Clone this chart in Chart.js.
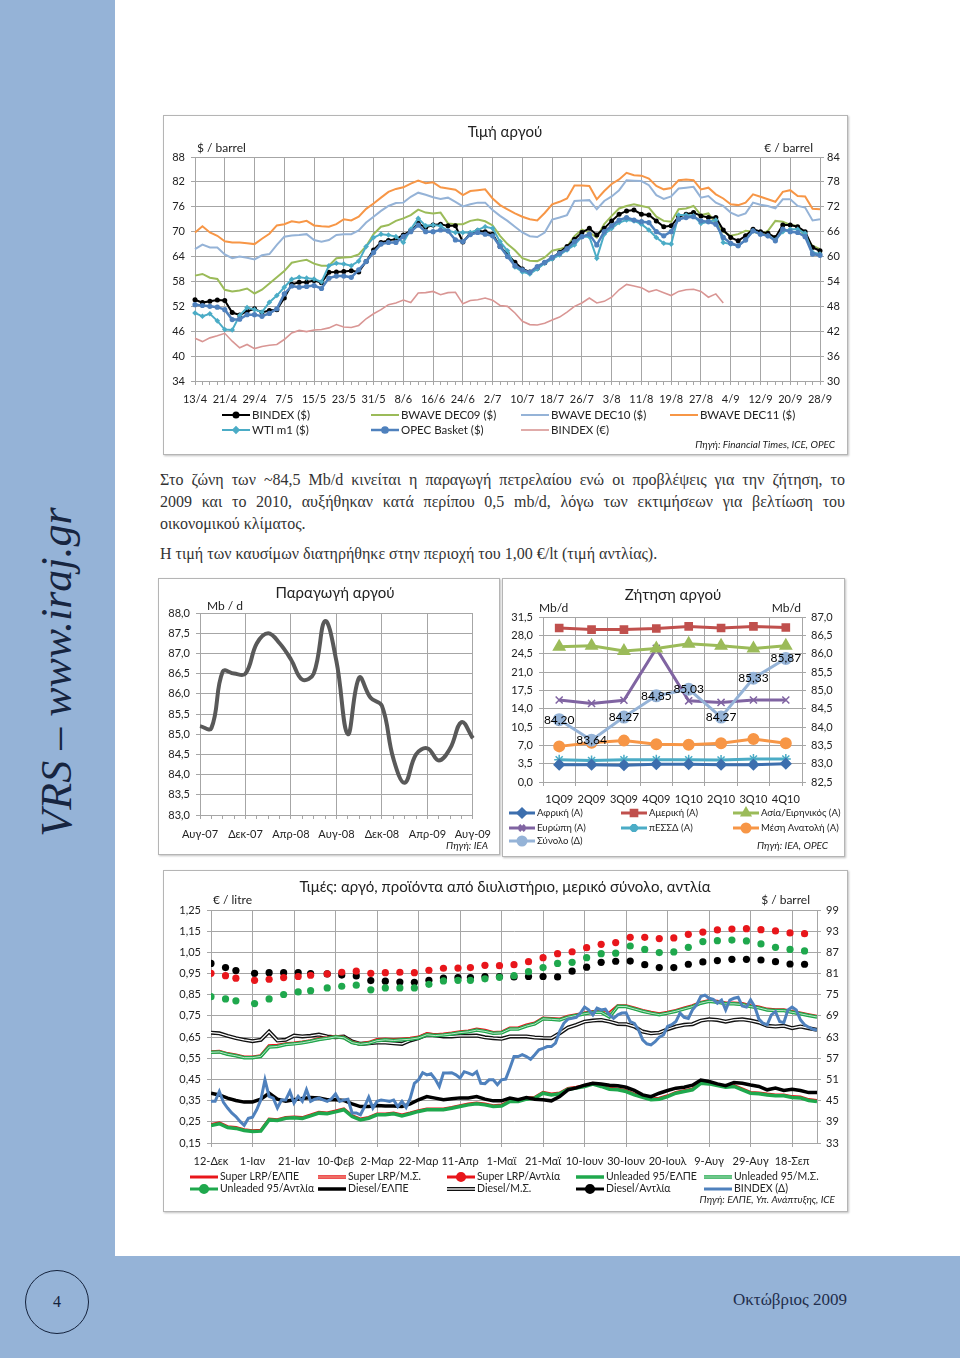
<!DOCTYPE html>
<html lang="el">
<head>
<meta charset="UTF-8">
<title>Τιμή αργού - Οκτώβριος 2009</title>
<script src="https://cdn.jsdelivr.net/npm/chart.js"></script>
<style>
  body { margin: 0; padding: 0; background: #fff; }
  .page { position: relative; width: 960px; height: 1358px; overflow: hidden; background: #fff; }
  .band-left { position: absolute; left: 0; top: 0; width: 115px; height: 1358px; background: #95b3d7; }
  .band-bottom { position: absolute; left: 0; top: 1256px; width: 960px; height: 102px; background: #95b3d7; }
  .vtext {
    position: absolute; left: -143px; top: 647px; width: 400px; height: 50px;
    font: italic 44px "Liberation Serif", serif; line-height: 50px; color: #172540;
    text-align: center; transform: rotate(-90deg); white-space: nowrap;
  }
  .pageno {
    position: absolute; left: 25px; top: 1270px; width: 62px; height: 62px; border: 1.5px solid #14223c;
    border-radius: 50%; text-align: center; font: 16px "Liberation Serif", serif; line-height: 62px; color: #14223c;
  }
  .month { position: absolute; left: 733px; top: 1290px; font: 17px "Liberation Serif", serif; line-height: 20px; color: #1f2d4b; }
  .box {
    position: absolute; box-sizing: border-box; border: 1px solid #b5b5b5; background: #fff;
    box-shadow: 1px 1px 2px rgba(0, 0, 0, 0.25);
  }
  .box canvas { position: absolute; left: -1px; top: -1px; }
  .txt {
    position: absolute; left: 160px; width: 685px; height: 22px; line-height: 22px; white-space: nowrap;
    font-family: "Liberation Serif", serif; font-size: 16px; color: #333;
  }
  .just { text-align: justify; text-align-last: justify; white-space: normal; }
</style>
</head>
<body>
<div class="page">
  <div class="band-left"></div>
  <div class="band-bottom"></div>
  <div class="vtext">VRS – www.iraj.gr</div>
  <div class="pageno">4</div>
  <div class="month">Οκτώβριος 2009</div>

  <div class="box" style="left:163px; top:115px; width:685px; height:340px;">
    <canvas id="crude" width="685" height="340"></canvas>
  </div>

  <div class="txt just" style="top:469px;">Στο ζώνη των ~84,5 Mb/d κινείται η παραγωγή πετρελαίου ενώ οι προβλέψεις για την ζήτηση, το</div>
  <div class="txt just" style="top:491px;">2009 και το 2010, αυξήθηκαν κατά περίπου 0,5 mb/d, λόγω των εκτιμήσεων για βελτίωση του</div>
  <div class="txt" style="top:513px;">οικονομικού κλίματος.</div>
  <div class="txt" style="top:543px;">Η τιμή των καυσίμων διατηρήθηκε στην περιοχή του 1,00 €/lt (τιμή αντλίας).</div>

  <div class="box" style="left:158px; top:578px; width:342px; height:277px;">
    <canvas id="production" width="342" height="277"></canvas>
  </div>
  <div class="box" style="left:502px; top:578px; width:343px; height:279px;">
    <canvas id="demand" width="343" height="279"></canvas>
  </div>

  <div class="box" style="left:163px; top:870px; width:685px; height:342px;">
    <canvas id="fuel" width="685" height="342"></canvas>
  </div>
</div>

<script>
// ---------- Τιμή αργού (κάθε 2 ημέρες, 13/4 - 28/9) ----------
const crudeDates = ['13/4','15/4','17/4','19/4','21/4','23/4','25/4','27/4','29/4','1/5','3/5','5/5','7/5','9/5','11/5','13/5','15/5','17/5','19/5','21/5','23/5','25/5','27/5','29/5','31/5','2/6','4/6','6/6','8/6','10/6','12/6','14/6','16/6','18/6','20/6','22/6','24/6','26/6','28/6','30/6','2/7','4/7','6/7','8/7','10/7','12/7','14/7','16/7','18/7','20/7','22/7','24/7','26/7','28/7','30/7','1/8','3/8','5/8','7/8','9/8','11/8','13/8','15/8','17/8','19/8','21/8','23/8','25/8','27/8','29/8','31/8','2/9','4/9','6/9','8/9','10/9','12/9','14/9','16/9','18/9','20/9','22/9','24/9','26/9','28/9'];
const bindexUsd = [53.6,52.9,53.2,53.5,53.4,50.5,49.9,50.8,51.4,50.5,51.0,51.2,54.0,57.3,57.8,57.8,58.2,57.7,60.2,60.3,60.4,60.6,60.3,62.8,65.6,67.4,67.9,68.2,69.2,70.2,72.0,71.0,71.6,71.8,71.4,71.4,67.5,69.6,70.2,70.0,69.4,66.4,64.6,62.6,61.0,60.3,61.2,62.5,63.6,65.0,66.4,68.2,69.8,70.8,69.2,70.8,72.6,74.2,75.0,75.2,74.2,74.0,72.6,71.2,71.4,73.6,74.2,74.6,73.8,73.4,73.4,70.4,68.6,67.8,69.0,70.6,70.0,69.6,68.6,71.6,71.6,71.2,70.0,66.2,65.4];
const dec09 = [59.4,59.8,58.9,58.6,56.0,55.6,55.8,56.3,55.1,56.0,57.5,59.0,60.5,62.5,62.9,63.2,62.3,61.8,61.8,63.6,63.8,63.9,64.5,66.5,69.4,71.2,71.6,72.6,73.2,74.0,75.3,74.6,74.4,74.6,72.0,71.8,71.8,72.6,72.9,72.5,71.5,69.0,67.0,65.5,63.6,63.0,62.9,63.8,65.4,65.8,66.4,68.9,70.5,69.8,68.6,71.8,73.8,75.6,76.2,76.6,76.2,75.8,73.6,72.6,72.4,75.4,75.6,76.2,74.0,74.4,72.0,70.0,69.0,69.4,70.2,70.0,69.4,70.2,72.6,72.4,71.6,71.4,68.8,66.6,65.8];
const dec10 = [65.8,66.9,66.2,66.2,64.5,63.6,64.0,63.7,63.3,64.3,64.6,66.8,68.8,69.1,69.2,69.4,68.0,67.6,68.0,69.2,69.4,69.4,70.3,72.2,73.6,75.0,76.2,76.9,77.0,78.4,79.4,78.9,78.3,77.9,78.2,77.2,76.1,76.6,77.0,77.0,75.2,73.8,72.6,71.2,69.8,68.9,68.7,69.8,72.9,73.4,74.0,77.4,77.5,77.6,75.4,77.4,78.5,80.0,82.4,82.3,82.2,81.2,78.8,77.9,78.5,80.4,80.6,80.8,78.2,78.6,77.0,76.2,74.6,73.8,74.4,77.0,76.5,76.2,75.6,77.8,77.8,76.2,75.8,72.7,73.0];
const dec11 = [69.8,71.3,69.8,69.0,67.7,67.4,67.4,67.2,67.0,68.3,69.5,71.5,71.8,72.5,72.2,72.6,71.5,71.3,71.2,71.8,73.0,72.7,73.6,75.5,76.8,78.2,79.6,80.3,80.7,81.6,82.3,81.7,81.9,80.7,80.4,80.1,78.8,79.8,80.0,80.2,78.0,76.4,75.4,74.4,73.6,73.0,72.7,74.5,76.6,77.2,78.0,81.1,81.1,81.0,77.8,79.8,81.5,82.6,84.2,83.6,83.5,82.8,81.0,80.2,80.5,82.4,82.6,82.4,80.2,80.6,79.0,78.0,76.6,76.4,77.0,79.0,78.4,77.8,77.2,79.6,80.0,78.6,78.5,75.5,75.4];
const wti = [50.4,49.6,50.2,48.5,46.4,46.3,49.8,51.7,51.2,50.6,53.0,54.6,56.6,58.5,59.0,58.8,58.6,57.9,61.8,62.4,62.2,61.8,62.9,66.4,68.6,69.4,69.2,68.8,67.4,70.6,73.2,71.4,71.6,71.4,70.2,69.8,69.8,69.8,70.4,71.2,70.8,67.6,65.4,61.5,60.3,59.8,61.0,62.4,63.4,64.4,65.6,66.8,68.8,68.8,63.6,69.4,70.8,72.2,72.8,72.6,71.8,70.4,68.6,67.2,67.0,74.0,74.0,73.8,72.0,72.4,72.8,67.4,67.0,66.6,68.0,70.2,69.4,69.0,68.0,70.0,70.6,70.6,69.6,65.0,64.6];
const opec = [52.4,52.2,52.0,51.8,51.2,48.8,48.9,50.0,50.0,49.6,50.3,51.4,55.0,56.9,56.6,56.8,57.0,56.3,58.8,59.3,59.3,59.0,60.8,62.8,65.0,67.0,67.4,67.4,68.8,70.0,71.6,70.0,70.0,70.4,70.2,68.0,67.6,69.3,69.8,69.4,69.0,66.4,64.0,61.8,60.8,60.2,61.6,62.6,63.8,64.8,65.9,67.6,68.8,69.4,66.8,70.0,71.4,72.8,73.4,72.8,72.4,72.2,70.0,69.0,70.0,73.0,73.4,73.6,72.6,72.4,71.8,68.6,67.2,66.6,68.0,70.2,69.4,69.0,67.8,70.6,70.0,69.8,68.8,64.6,64.3];
const bindexEur = [40.3,39.5,40.4,40.9,41.5,39.6,38.0,38.8,37.8,38.3,38.6,38.8,40.0,41.6,42.2,41.9,42.3,42.4,42.8,43.6,43.0,42.9,43.4,45.0,46.2,47.2,48.4,48.8,49.5,48.9,51.2,51.3,51.6,50.8,51.3,51.4,48.6,49.4,49.6,50.0,49.5,48.2,48.0,46.4,44.4,43.6,43.5,43.9,44.7,45.4,46.6,48.0,48.8,50.0,48.8,49.2,50.2,52.0,53.3,52.9,52.5,51.5,52.0,51.3,50.6,51.6,52.0,52.1,51.6,50.2,51.0,48.8,null,null,null,null,null,null,null,null,null,null,null,null,null];

// ---------- Παραγωγή αργού (μηνιαία) ----------
const prodMonths = ['Αυγ-07','Σεπ-07','Οκτ-07','Νοε-07','Δεκ-07','Ιαν-08','Φεβ-08','Μαρ-08','Απρ-08','Μαϊ-08','Ιουν-08','Ιουλ-08','Αυγ-08','Σεπ-08','Οκτ-08','Νοε-08','Δεκ-08','Ιαν-09','Φεβ-09','Μαρ-09','Απρ-09','Μαϊ-09','Ιουν-09','Ιουλ-09','Αυγ-09'];
const production = [85.2,85.15,86.55,86.5,86.5,87.25,87.5,87.25,86.85,86.35,86.5,87.8,86.8,85.0,86.4,85.9,85.7,84.4,83.8,84.5,84.65,84.35,84.65,85.3,84.9];

// ---------- Ζήτηση αργού (τρίμηνα) ----------
const quarters = ['1Q09','2Q09','3Q09','4Q09','1Q10','2Q10','3Q10','4Q10'];
const africa = [3.3,3.3,3.2,3.4,3.4,3.3,3.3,3.5];
const america = [29.4,29.1,29.1,29.3,29.7,29.4,29.7,29.5];
const asia = [25.8,26.0,25.0,25.5,26.4,26.0,25.5,26.0];
const europe = [15.65,15.0,15.6,25.5,15.5,15.2,15.65,15.65];
const fsu = [4.25,4.1,4.25,4.25,4.25,4.2,4.4,4.4];
const middleEast = [6.8,7.5,7.9,7.2,7.1,7.4,8.2,7.4];
const totalDemand = [84.20,83.64,84.27,84.85,85.03,84.27,85.33,85.87];

// ---------- Τιμές καυσίμων (ημέρες από 12-Δεκ-2008) ----------
const fuelTicks = ['12-Δεκ','1-Ιαν','21-Ιαν','10-Φεβ','2-Μαρ','22-Μαρ','11-Απρ','1-Μαϊ','21-Μαϊ','10-Ιουν','30-Ιουν','20-Ιουλ','9-Αυγ','29-Αυγ','18-Σεπ'];
const lineDays = [0,4,8,12,16,20,24,28,32,36,40,44,48,52,56,60,64,68,72,76,80,84,88,92,96,100,104,108,112,116,120,124,128,132,136,140,144,148,152,156,160,164,168,172,176,180,184,188,192,196,200,204,208,212,216,220,224,228,232,236,240,244,248,252,256,260,264,268,272,276,280,284,288,292];
const superElpe = [0.237,0.245,0.227,0.223,0.213,0.208,0.210,0.263,0.260,0.271,0.273,0.270,0.282,0.295,0.292,0.301,0.311,0.279,0.263,0.271,0.287,0.287,0.292,0.282,0.292,0.303,0.311,0.311,0.311,0.318,0.326,0.334,0.339,0.334,0.326,0.329,0.350,0.350,0.361,0.366,0.389,0.381,0.386,0.408,0.413,0.421,0.432,0.421,0.408,0.405,0.397,0.381,0.370,0.358,0.361,0.373,0.389,0.397,0.405,0.436,0.433,0.425,0.417,0.421,0.405,0.389,0.386,0.381,0.377,0.377,0.369,0.367,0.355,0.350];
const superMs = [0.579,0.582,0.571,0.564,0.555,0.555,0.561,0.608,0.610,0.618,0.621,0.626,0.632,0.642,0.646,0.653,0.648,0.626,0.618,0.624,0.637,0.640,0.637,0.640,0.643,0.649,0.665,0.660,0.663,0.668,0.674,0.678,0.687,0.681,0.671,0.673,0.692,0.692,0.706,0.715,0.739,0.737,0.734,0.747,0.755,0.763,0.770,0.770,0.763,0.797,0.797,0.786,0.775,0.766,0.759,0.766,0.775,0.786,0.797,0.813,0.822,0.818,0.810,0.810,0.807,0.797,0.791,0.781,0.778,0.778,0.770,0.763,0.755,0.747];
const unlElpe = [0.233,0.241,0.223,0.219,0.209,0.204,0.206,0.259,0.256,0.267,0.269,0.266,0.278,0.291,0.288,0.297,0.307,0.275,0.259,0.267,0.283,0.283,0.288,0.278,0.288,0.299,0.307,0.307,0.307,0.314,0.322,0.330,0.335,0.330,0.322,0.325,0.346,0.346,0.357,0.362,0.385,0.377,0.382,0.404,0.409,0.417,0.428,0.417,0.404,0.401,0.393,0.377,0.366,0.354,0.357,0.369,0.385,0.393,0.401,0.432,0.429,0.421,0.413,0.417,0.401,0.385,0.382,0.377,0.373,0.373,0.365,0.363,0.351,0.346];
const unlMs = [0.578,0.580,0.569,0.562,0.553,0.553,0.559,0.603,0.606,0.615,0.618,0.623,0.630,0.639,0.644,0.651,0.647,0.624,0.616,0.621,0.633,0.637,0.634,0.637,0.640,0.646,0.661,0.657,0.660,0.665,0.671,0.675,0.683,0.677,0.668,0.670,0.688,0.688,0.702,0.712,0.736,0.734,0.731,0.744,0.752,0.760,0.767,0.767,0.745,0.795,0.794,0.783,0.772,0.763,0.756,0.763,0.772,0.783,0.794,0.810,0.819,0.815,0.807,0.807,0.804,0.794,0.788,0.778,0.775,0.775,0.767,0.760,0.752,0.745];
const dieselElpe = [0.385,0.377,0.362,0.351,0.343,0.344,0.357,0.385,0.357,0.347,0.354,0.360,0.365,0.362,0.354,0.354,0.351,0.335,0.322,0.322,0.327,0.325,0.325,0.322,0.335,0.354,0.369,0.362,0.354,0.359,0.363,0.363,0.369,0.357,0.349,0.349,0.362,0.354,0.365,0.357,0.354,0.349,0.369,0.401,0.410,0.423,0.432,0.429,0.423,0.420,0.413,0.398,0.377,0.369,0.385,0.398,0.409,0.413,0.423,0.447,0.440,0.429,0.421,0.436,0.432,0.424,0.417,0.401,0.409,0.398,0.404,0.398,0.388,0.388];
const dieselMs = [0.671,0.668,0.656,0.645,0.637,0.631,0.637,0.676,0.634,0.637,0.657,0.653,0.656,0.662,0.653,0.649,0.653,0.629,0.618,0.621,0.624,0.624,0.621,0.618,0.634,0.645,0.662,0.659,0.653,0.653,0.656,0.656,0.657,0.649,0.645,0.642,0.653,0.653,0.653,0.648,0.646,0.645,0.668,0.695,0.708,0.723,0.728,0.731,0.723,0.712,0.711,0.700,0.676,0.668,0.671,0.687,0.700,0.708,0.711,0.728,0.734,0.731,0.723,0.731,0.734,0.728,0.719,0.703,0.700,0.703,0.692,0.700,0.692,0.684];
const pumpDays = [0,7,12,21,28,35,42,48,56,63,70,77,84,91,98,105,112,119,125,132,139,146,153,160,167,174,181,188,195,202,209,216,223,230,237,244,251,258,265,272,279,286];
const superPump = [0.951,0.940,0.928,0.918,0.923,0.931,0.936,0.942,0.948,0.956,0.961,0.951,0.954,0.956,0.954,0.965,0.975,0.976,0.978,0.989,0.987,0.992,1.006,1.025,1.044,1.053,1.072,1.088,1.096,1.121,1.121,1.115,1.118,1.135,1.146,1.156,1.160,1.162,1.157,1.151,1.142,1.138];
const unlPump = [0.841,0.830,0.821,0.808,0.830,0.851,0.863,0.869,0.882,0.890,0.895,0.873,0.882,0.882,0.882,0.899,0.915,0.918,0.918,0.925,0.932,0.940,0.959,0.978,0.998,1.003,1.025,1.044,1.046,1.080,1.064,1.049,1.052,1.074,1.101,1.105,1.108,1.104,1.090,1.074,1.064,1.057];
const dieselPump = [0.998,0.978,0.964,0.951,0.954,0.954,0.954,0.950,0.948,0.943,0.939,0.917,0.914,0.910,0.909,0.918,0.929,0.931,0.931,0.936,0.936,0.934,0.936,0.936,0.934,0.961,0.980,1.003,1.008,1.009,0.992,0.978,0.978,0.994,1.005,1.011,1.017,1.017,1.014,1.006,0.995,0.994];
const bindexDays = [0,2,4,6,8,10,12,14,16,18,20,22,24,26,28,30,32,34,36,38,40,42,44,46,48,50,52,54,56,58,60,62,64,66,68,70,72,74,76,78,80,82,84,86,88,90,92,94,96,98,100,102,104,106,108,110,112,114,116,118,120,122,124,126,128,130,132,134,136,138,140,142,144,146,148,150,152,154,156,158,160,162,164,166,168,170,172,174,176,178,180,182,184,186,188,190,192,194,196,198,200,202,204,206,208,210,212,214,216,218,220,222,224,226,228,230,232,234,236,238,240,242,244,246,248,250,252,254,256,258,260,262,264,266,268,270,272,274,276,278,280,282,284,286,288,290,292];
const bindexFuel = [44.8,44.8,47.6,44.5,42.9,41.5,40.5,39.1,38.0,40.0,40.3,42.4,45.2,50.9,46.2,45.7,42.9,45.2,45.2,47.6,44.3,46.2,44.8,48.1,44.8,45.4,45.7,45.2,44.8,45.5,46.9,44.8,45.2,45.4,41.5,41.5,41.0,43.3,46.0,42.9,44.8,45.2,45.0,44.8,45.2,43.3,44.8,43.1,45.7,49.9,50.9,52.9,52.3,52.6,51.1,49.0,52.8,52.8,52.9,52.3,51.4,53.2,52.8,52.3,53.2,49.9,49.8,50.9,50.9,49.5,50.9,51.1,54.2,57.5,57.5,58.0,57.5,56.7,58.0,59.4,59.8,60.3,60.3,61.3,64.6,66.9,68.1,68.3,68.6,69.8,71.5,70.7,69.3,71.2,70.7,70.9,69.3,68.3,69.3,69.8,69.9,67.4,66.9,65.0,62.2,61.1,60.8,61.7,63.0,63.6,66.0,66.5,67.4,69.8,68.6,68.3,70.7,72.1,74.5,74.9,74.0,73.7,72.6,73.5,70.7,73.5,74.0,74.3,71.8,71.5,73.5,71.6,68.1,66.9,66.5,69.3,70.2,67.4,67.1,70.7,71.5,70.7,67.9,66.5,65.8,65.2,65.0];

// ---------- κοινά ----------
Chart.defaults.font.family = 'Lato, "Open Sans", sans-serif';
Chart.defaults.font.size = 11;
Chart.defaults.color = '#222';
Chart.defaults.animation = false;
Chart.defaults.plugins.legend.display = false;
Chart.defaults.plugins.tooltip.enabled = false;

const GRID = '#a6a6a6';
const NONE = 'rgba(0,0,0,0)';
const fixW = w => s => { s.width = w; };
const fixH = h => s => { s.height = h; };
const comma = d => v => Number(v).toFixed(d).replace('.', ',');
const pairs = (xs, ys) => xs.map((x, i) => ({ x: x, y: ys[i] }));

// τίτλοι, μονάδες, πηγή, υπόμνημα σε στήλες, διπλές γραμμές, ετικέτες τιμών
const decor = {
  id: 'decor',
  afterDatasetDraw(chart, args) {
    const ds = chart.data.datasets[args.index];
    if (!ds.innerColor) return;
    const ctx = chart.ctx;
    const pts = args.meta.data;
    ctx.save();
    ctx.beginPath();
    pts.forEach((p, i) => { if (i) ctx.lineTo(p.x, p.y); else ctx.moveTo(p.x, p.y); });
    ctx.strokeStyle = ds.innerColor;
    ctx.lineWidth = ds.innerWidth || 1.2;
    ctx.lineJoin = 'round';
    ctx.stroke();
    ctx.restore();
  },
  afterDatasetsDraw(chart) {
    const ctx = chart.ctx;
    chart.data.datasets.forEach((ds, i) => {
      if (!ds.valueLabels) return;
      const meta = chart.getDatasetMeta(i);
      ctx.save();
      ctx.font = '12px Lato';
      ctx.fillStyle = '#000';
      ctx.textAlign = 'center';
      ctx.textBaseline = 'middle';
      meta.data.forEach((p, j) => ctx.fillText(comma(2)(ds.data[j]), p.x, p.y));
      ctx.restore();
    });
  },
  afterDraw(chart, args, opts) {
    const ctx = chart.ctx;
    ctx.save();
    ctx.textBaseline = 'middle';
    (opts.texts || []).forEach(t => {
      ctx.font = t.font || '12px Lato';
      ctx.fillStyle = t.color || '#222';
      ctx.textAlign = t.align || 'left';
      ctx.fillText(t.text, t.x, t.y);
    });
    const lg = opts.legend;
    if (lg) {
      chart.data.datasets.forEach((ds, k) => {
        const x = lg.xs[k % lg.xs.length];
        const y = lg.ys[Math.floor(k / lg.xs.length)];
        const w = lg.width || 28;
        ctx.beginPath();
        ctx.moveTo(x, y);
        ctx.lineTo(x + w, y);
        ctx.strokeStyle = ds.borderColor;
        ctx.lineWidth = Math.min(ds.borderWidth || 2, 4);
        ctx.stroke();
        if (ds.innerColor) {
          ctx.beginPath();
          ctx.moveTo(x, y);
          ctx.lineTo(x + w, y);
          ctx.strokeStyle = ds.innerColor;
          ctx.lineWidth = ds.innerWidth || 1.2;
          ctx.stroke();
        }
        if (ds.pointRadius) {
          ctx.fillStyle = ds.pointBackgroundColor || ds.borderColor;
          ctx.strokeStyle = ds.pointBorderColor || ds.borderColor;
          Chart.helpers.drawPoint(ctx, { pointStyle: ds.pointStyle || 'circle', rotation: 0, radius: Math.min(ds.pointRadius, 4), borderWidth: 1.5 }, x + w / 2, y);
        }
        ctx.font = lg.font;
        ctx.fillStyle = '#222';
        ctx.textAlign = 'left';
        ctx.fillText(ds.label, x + w + 2, y);
      });
    }
    ctx.restore();
  }
};

// ---------- 1. Τιμή αργού ----------
new Chart(document.getElementById('crude'), {
  type: 'line',
  data: {
    labels: crudeDates,
    datasets: [
      { label: 'BINDEX ($)', data: bindexUsd, borderColor: '#000', backgroundColor: '#000', borderWidth: 2, pointRadius: 2.5, pointStyle: 'circle', pointBorderWidth: 0, order: 3 },
      { label: 'BWAVE DEC09 ($)', data: dec09, borderColor: '#9bbb59', borderWidth: 2, pointRadius: 0, order: 4 },
      { label: 'BWAVE DEC10 ($)', data: dec10, borderColor: '#95b3d7', borderWidth: 2, pointRadius: 0, order: 5 },
      { label: 'BWAVE DEC11 ($)', data: dec11, borderColor: '#f79646', borderWidth: 2, pointRadius: 0, order: 6 },
      { label: 'WTI m1 ($)', data: wti, borderColor: '#4bacc6', backgroundColor: '#4bacc6', borderWidth: 2, pointRadius: 2.8, pointStyle: 'rectRot', pointBorderWidth: 0, order: 2 },
      { label: 'OPEC Basket ($)', data: opec, borderColor: '#4f81bd', backgroundColor: '#4f81bd', borderWidth: 2.5, pointRadius: 2.6, pointStyle: 'circle', pointBorderWidth: 0, order: 1 },
      { label: 'BINDEX (€)', data: bindexEur, borderColor: '#d99694', borderWidth: 1.6, pointRadius: 0, yAxisID: 'y2', order: 7 }
    ]
  },
  options: {
    responsive: false,
    layout: { padding: { top: 42, left: 0, right: 0, bottom: 0 } },
    scales: {
      x: {
        grid: { color: c => (c.index % 4 === 0 ? GRID : NONE), tickColor: GRID, tickLength: 4 },
        border: { color: GRID },
        ticks: { autoSkip: false, maxRotation: 0, padding: 8, callback: (v, i) => (i % 4 === 0 ? crudeDates[i] : '') },
        afterFit: fixH(74)
      },
      y: {
        position: 'left', min: 34, max: 88,
        ticks: { stepSize: 6, padding: 6 },
        grid: { color: GRID, tickLength: 4 }, border: { color: GRID },
        afterFit: fixW(32)
      },
      y2: {
        position: 'right', min: 30, max: 84,
        ticks: { stepSize: 6, padding: 3 },
        grid: { drawOnChartArea: false, color: GRID, tickLength: 4 }, border: { color: GRID },
        afterFit: fixW(28)
      }
    },
    plugins: {
      decor: {
        texts: [
          { text: 'Τιμή αργού', x: 342, y: 17, font: '15px Lato', align: 'center' },
          { text: '$ / barrel', x: 34, y: 33 },
          { text: '€ / barrel', x: 650, y: 33, align: 'right' },
          { text: 'Πηγή: Financial Times, ICE, OPEC', x: 672, y: 330, font: 'italic 10px Lato', align: 'right' }
        ],
        legend: { xs: [59, 208, 358, 507], ys: [300, 315], font: '11.5px Lato' }
      }
    }
  },
  plugins: [decor]
});

// ---------- 2. Παραγωγή αργού ----------
new Chart(document.getElementById('production'), {
  type: 'line',
  data: {
    labels: prodMonths,
    datasets: [
      { label: 'Παραγωγή', data: production, borderColor: '#595959', borderWidth: 4, pointRadius: 0, tension: 0.4 }
    ]
  },
  options: {
    responsive: false,
    layout: { padding: { top: 35, left: 0, right: 24, bottom: 0 } },
    scales: {
      x: {
        grid: { color: c => (c.index % 4 === 0 ? GRID : NONE), tickColor: GRID, tickLength: 4 },
        border: { color: GRID },
        ticks: { autoSkip: false, maxRotation: 0, padding: 9, callback: (v, i) => (i % 4 === 0 ? prodMonths[i] : '') },
        afterFit: fixH(40)
      },
      y: {
        min: 83, max: 88,
        ticks: { stepSize: 0.5, padding: 6, callback: comma(1) },
        grid: { color: GRID, tickLength: 4 }, border: { color: GRID },
        afterFit: fixW(42)
      }
    },
    plugins: {
      decor: {
        texts: [
          { text: 'Παραγωγή αργού', x: 177, y: 15, font: '15px Lato', align: 'center' },
          { text: 'Mb / d', x: 49, y: 28 },
          { text: 'Πηγή: IEA', x: 330, y: 268, font: 'italic 10px Lato', align: 'right' }
        ]
      }
    }
  },
  plugins: [decor]
});

// ---------- 3. Ζήτηση αργού ----------
new Chart(document.getElementById('demand'), {
  type: 'line',
  data: {
    labels: quarters,
    datasets: [
      { label: 'Αφρική (Α)', data: africa, borderColor: '#3d6fae', backgroundColor: '#3d6fae', borderWidth: 3, pointRadius: 4, pointStyle: 'rectRot', order: 2 },
      { label: 'Αμερική (Α)', data: america, borderColor: '#c0504d', backgroundColor: '#c0504d', borderWidth: 3, pointRadius: 4, pointStyle: 'rect', order: 2 },
      { label: 'Ασία/Ειρηνικός (Α)', data: asia, borderColor: '#9bbb59', backgroundColor: '#9bbb59', borderWidth: 3, pointRadius: 5, pointStyle: 'triangle', order: 2 },
      { label: 'Ευρώπη (Α)', data: europe, borderColor: '#8064a2', backgroundColor: '#8064a2', borderWidth: 3, pointRadius: 5, pointStyle: 'crossRot', pointBorderWidth: 1.5, order: 2 },
      { label: 'πΕΣΣΔ (Α)', data: fsu, borderColor: '#4bacc6', backgroundColor: '#4bacc6', borderWidth: 3, pointRadius: 5, pointStyle: 'star', pointBorderWidth: 1.5, order: 2 },
      { label: 'Μέση Ανατολή (Α)', data: middleEast, borderColor: '#f79646', backgroundColor: '#f79646', borderWidth: 3, pointRadius: 4.5, pointStyle: 'circle', order: 2 },
      { label: 'Σύνολο (Δ)', data: totalDemand, borderColor: '#95b3d7', backgroundColor: '#95b3d7', borderWidth: 3, pointRadius: 5, pointStyle: 'circle', yAxisID: 'y2', valueLabels: true, order: 1 }
    ]
  },
  options: {
    responsive: false,
    layout: { padding: { top: 39, left: 0, right: 0, bottom: 0 } },
    scales: {
      x: {
        offset: true,
        grid: { offset: true, color: GRID, tickLength: 4 },
        border: { color: GRID },
        ticks: { maxRotation: 0, padding: 7 },
        afterFit: fixH(75)
      },
      y: {
        position: 'left', min: 0, max: 31.5,
        ticks: { stepSize: 3.5, padding: 6, callback: comma(1) },
        grid: { color: GRID, tickLength: 4 }, border: { color: GRID },
        afterFit: fixW(41)
      },
      y2: {
        position: 'right', min: 82.5, max: 87,
        ticks: { stepSize: 0.5, padding: 5, callback: comma(1) },
        grid: { drawOnChartArea: false, color: GRID, tickLength: 4 }, border: { color: GRID },
        afterFit: fixW(43)
      }
    },
    plugins: {
      decor: {
        texts: [
          { text: 'Ζήτηση αργού', x: 171, y: 17, font: '15px Lato', align: 'center' },
          { text: 'Mb/d', x: 37, y: 30 },
          { text: 'Mb/d', x: 299, y: 30, align: 'right' },
          { text: 'Πηγή: IEA, OPEC', x: 326, y: 268, font: 'italic 10px Lato', align: 'right' }
        ],
        legend: { xs: [7, 119, 231], ys: [235, 250, 263], width: 26, font: '9.6px Lato' }
      }
    }
  },
  plugins: [decor]
});

// ---------- 4. Τιμές καυσίμων ----------
new Chart(document.getElementById('fuel'), {
  type: 'line',
  data: {
    datasets: [
      { label: 'Super LRP/ΕΛΠΕ', data: pairs(lineDays, superElpe), borderColor: '#e8161b', borderWidth: 3, pointRadius: 0, order: 6 },
      { label: 'Super LRP/Μ.Σ.', data: pairs(lineDays, superMs), borderColor: '#e8161b', borderWidth: 3.5, innerColor: '#f4c7b0', innerWidth: 1, pointRadius: 0, order: 7 },
      { label: 'Super LRP/Αντλία', data: pairs(pumpDays, superPump), borderColor: '#e8161b', backgroundColor: '#e8161b', showLine: false, borderWidth: 3, pointRadius: 3.6, pointBorderWidth: 0, order: 1 },
      { label: 'Unleaded 95/ΕΛΠΕ', data: pairs(lineDays, unlElpe), borderColor: '#1fa84d', borderWidth: 3.5, pointRadius: 0, order: 5 },
      { label: 'Unleaded 95/Μ.Σ.', data: pairs(lineDays, unlMs), borderColor: '#1fa84d', borderWidth: 3.5, innerColor: '#bfe6c8', innerWidth: 1, pointRadius: 0, order: 6 },
      { label: 'Unleaded 95/Αντλία', data: pairs(pumpDays, unlPump), borderColor: '#1fa84d', backgroundColor: '#1fa84d', showLine: false, borderWidth: 3, pointRadius: 3.6, pointBorderWidth: 0, order: 1 },
      { label: 'Diesel/ΕΛΠΕ', data: pairs(lineDays, dieselElpe), borderColor: '#000', borderWidth: 3.5, pointRadius: 0, order: 4 },
      { label: 'Diesel/Μ.Σ.', data: pairs(lineDays, dieselMs), borderColor: '#111', borderWidth: 4, innerColor: '#fff', innerWidth: 1.3, pointRadius: 0, order: 8 },
      { label: 'Diesel/Αντλία', data: pairs(pumpDays, dieselPump), borderColor: '#000', backgroundColor: '#000', showLine: false, borderWidth: 3, pointRadius: 3.6, pointBorderWidth: 0, order: 1 },
      { label: 'BINDEX (Δ)', data: pairs(bindexDays, bindexFuel), borderColor: '#4f81bd', borderWidth: 3, pointRadius: 0, yAxisID: 'y2', order: 3 }
    ]
  },
  options: {
    responsive: false,
    layout: { padding: { top: 40, left: 0, right: 0, bottom: 0 } },
    scales: {
      x: {
        type: 'linear', min: 0, max: 292,
        grid: { color: GRID, tickLength: 4 },
        border: { color: GRID },
        ticks: { stepSize: 20, includeBounds: false, autoSkip: false, maxRotation: 0, padding: 8, callback: v => fuelTicks[v / 20] },
        afterFit: fixH(69)
      },
      y: {
        position: 'left', min: 0.15, max: 1.25,
        ticks: { stepSize: 0.1, padding: 6, callback: comma(2) },
        grid: { color: GRID, tickLength: 4 }, border: { color: GRID },
        afterFit: fixW(48)
      },
      y2: {
        position: 'right', min: 33, max: 99,
        ticks: { stepSize: 6, padding: 5 },
        grid: { drawOnChartArea: false, color: GRID, tickLength: 4 }, border: { color: GRID },
        afterFit: fixW(31)
      }
    },
    plugins: {
      decor: {
        texts: [
          { text: 'Τιμές: αργό, προϊόντα από διυλιστήριο, μερικό σύνολο, αντλία', x: 342, y: 17, font: '15px Lato', align: 'center' },
          { text: '€ / litre', x: 50, y: 30 },
          { text: '$ / barrel', x: 647, y: 30, align: 'right' },
          { text: 'Πηγή: ΕΛΠΕ, Υπ. Ανάπτυξης, ICE', x: 672, y: 330, font: 'italic 10px Lato', align: 'right' }
        ],
        legend: { xs: [27, 155, 284, 413, 541], ys: [307, 319], font: '10.5px Lato' }
      }
    }
  },
  plugins: [decor]
});
</script>
</body>
</html>
